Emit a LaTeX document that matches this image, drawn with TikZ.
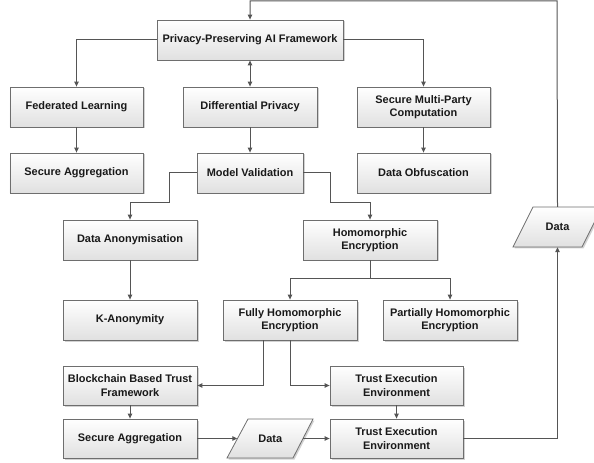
\documentclass[tikz,border=0pt]{standalone}
\usepackage{fontspec}
\setmainfont{Liberation Sans}
\usetikzlibrary{shadows,arrows.meta,calc}
\definecolor{linec}{HTML}{555555}
\definecolor{boxb}{HTML}{6E6E6E}
\tikzset{
  boxfont/.style={font=\fontsize{11}{13.3}\selectfont\bfseries, text=black!90},
  box/.style={draw=boxb, line width=0.8bp, top color=white, bottom color=black!12,
    drop shadow={shadow xshift=1.5bp, shadow yshift=-1.5bp, fill=black!35, opacity=0.5},
    minimum width=133bp, minimum height=40bp, inner sep=1bp, align=center, boxfont},
  para/.style={draw=boxb, line width=0.8bp, top color=white, bottom color=black!12,
    drop shadow={shadow xshift=1.5bp, shadow yshift=-1.5bp, fill=black!35, opacity=0.5}},
  dtext/.style={inner sep=0pt, minimum height=40bp, boxfont},
  arr/.style={draw=linec, line width=1bp, -{Triangle[length=5bp,width=4.5bp]}},
  darr/.style={draw=linec, line width=1bp, {Triangle[length=5bp,width=4.5bp]}-{Triangle[length=5bp,width=4.5bp]}},
  ln/.style={draw=linec, line width=1bp}
}
\begin{document}
\begin{tikzpicture}[x=1bp,y=-1bp]
\useasboundingbox (0,0) rectangle (594,463);
% boxes
\node[box, minimum width=186bp] (pp) at (250,40) {Privacy-Preserving AI Framework};
\node[box] (fl) at (76.5,107) {Federated Learning};
\node[box, minimum width=134bp] (dp) at (250,107) {Differential Privacy};
\node[box] (smpc) at (423.5,107) {Secure Multi-Party\\Computation};
\node[box] (sa1) at (76.5,173) {Secure Aggregation};
\node[box, minimum width=106bp] (mv) at (250,173) {Model Validation};
\node[box] (dob) at (423.5,173) {Data Obfuscation};
\node[box, minimum width=134bp] (da) at (130,240) {Data Anonymisation};
\node[box, minimum width=134bp] (he) at (370,240) {Homomorphic\\Encryption};
\node[box, minimum width=134bp] (ka) at (130,320) {K-Anonymity};
\node[box, minimum width=134bp] (fhe) at (290,320) {Fully Homomorphic\\Encryption};
\node[box, minimum width=134bp] (phe) at (450,320) {Partially Homomorphic\\Encryption};
\node[box, minimum width=134bp, minimum height=39bp] (bc) at (130,385.5) {Blockchain Based Trust\\Framework};
\node[box, minimum width=133bp, minimum height=39bp] (te1) at (396.5,385.5) {Trust Execution\\Environment};
\node[box, minimum width=134bp, minimum height=39bp] (sa2) at (130,438.5) {Secure Aggregation};
\node[box, minimum width=133bp, minimum height=39bp] (te2) at (396.5,438.5) {Trust Execution\\Environment};
% data parallelograms
\path[para] (227,458) -- (248,419) -- (313,419) -- (293,458) -- cycle;
\node[dtext, minimum width=65.5bp, minimum height=39bp] (d1) at (270.25,438.5) {Data};
\path[para] (513,247) -- (533,207) -- (602,207) -- (582,247) -- cycle;
\node[dtext, minimum width=69bp] (d2) at (557.5,227) {Data};
% connectors
\draw[arr] (pp.west) -| (fl.north);
\draw[arr] (pp.east) -| (smpc.north);
\draw[darr] (pp.south) -- (dp.north);
\draw[arr] (fl) -- (sa1);
\draw[arr] (dp) -- (mv);
\draw[arr] (smpc) -- (dob);
\draw[arr] (mv.west) -| ++(-27,30) -| (da.north);
\draw[arr] (mv.east) -| ++(27,30) -| (he.north);
\draw[ln] (he.south) -- ++(0,18) coordinate (hj);
\draw[arr] (hj) -| (fhe.north);
\draw[arr] (hj) -| (phe.north);
\draw[arr] (da) -- (ka);
\draw[arr] ([xshift=-27bp]fhe.south) |- (bc.east);
\draw[arr] (fhe.south) |- (te1.west);
\draw[arr] (bc) -- (sa2);
\draw[arr] (te1) -- (te2);
\draw[arr] (sa2.east) -- (d1.west);
\draw[arr] (d1.east) -- (te2.west);
\draw[arr] (te2.east) -| (d2.south);
\coordinate (topc) at (557,1);
\draw[arr] (d2.north) -- (topc) -| (pp.north);
\end{tikzpicture}
\end{document}
